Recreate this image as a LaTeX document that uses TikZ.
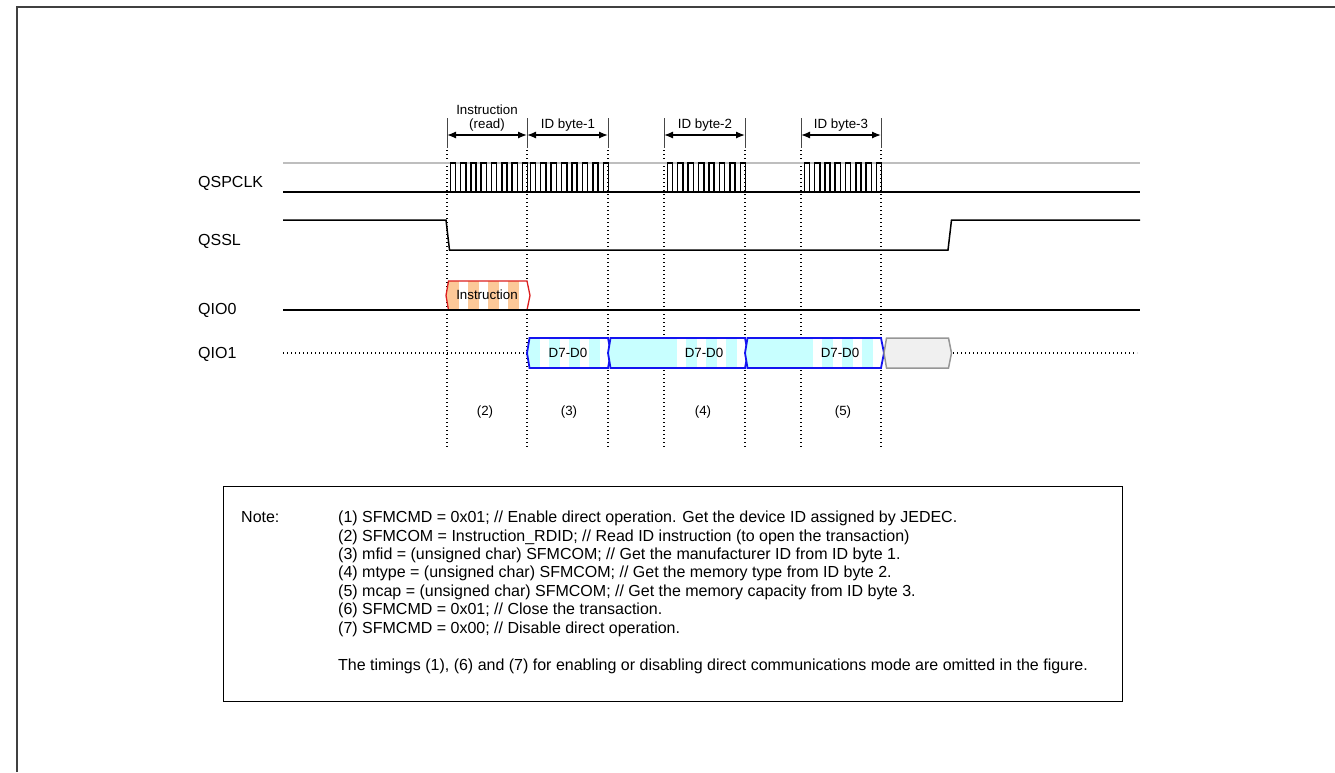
\documentclass[tikz,border=0pt]{standalone}
\usepackage{fontspec}
\setmainfont{Liberation Sans}
\usetikzlibrary{arrows.meta}
\definecolor{orangefill}{RGB}{252,200,152}
\definecolor{redline}{RGB}{220,30,30}
\definecolor{bluline}{RGB}{20,20,240}
\definecolor{cyanfill}{RGB}{200,255,255}
\definecolor{grayfill}{RGB}{240,240,240}
\definecolor{grayline}{RGB}{150,150,150}
\definecolor{clkgray}{RGB}{190,190,190}
\definecolor{borderc}{RGB}{64,64,64}
\definecolor{tickc}{RGB}{70,70,70}
\newcommand{\busbox}[6]{%
  \begin{scope}
    \clip (#1+2.5,#3) -- (#2,#3) -- (#2+3,{(#3+#4)/2}) -- (#2,#4) -- (#1+2.5,#4) -- (#1,{(#3+#4)/2}) -- cycle;
    \fill[#5] (#1-1,#3-1) rectangle (#2+5,#4+1);
    \foreach \k in {0,1,2,3} {\fill[white] ({#2-8-20*\k},#3-1) rectangle ({#2+1-20*\k+5*(\k==0)},#4+1);}
  \end{scope}
  \draw[#6] (#1+2.5,#3) -- (#2,#3) -- (#2+3,{(#3+#4)/2}) -- (#2,#4) -- (#1+2.5,#4) -- (#1,{(#3+#4)/2}) -- cycle;
}
\begin{document}
\begin{tikzpicture}[x=1pt,y=-1pt,
  font=\fontsize{16}{18.4}\selectfont,
  sig/.style={line width=1.5pt},
  dotline/.style={line width=1.3pt, dash pattern=on 1.3pt off 2.7pt},
  tickline/.style={tickc, line width=1pt},
  dimarrow/.style={line width=1.3pt, {Latex[length=9pt,width=7pt]}-{Latex[length=9pt,width=7pt]}},
  small/.style={font=\fontsize{13.33}{15}\selectfont, inner sep=0},
  lbl/.style={inner sep=0, anchor=base west},
  notel/.style={inner sep=0, anchor=base west}]
\useasboundingbox (0,0) rectangle (1335,772);
% outer border
\draw[borderc, line width=1.5pt] (17,772) -- (17,7) -- (1335,7);

% signal names
\node[lbl] (lclk) at (198,187.5) {QSPCLK};
\node[lbl] (lssl) at (198,245.5) {QSSL};
\node[lbl] (lio0) at (198,314.5) {QIO0};
\node[lbl] (lio1) at (198,358.5) {QIO1};

% vertical marker lines
\foreach \x in {447,527,608,664,745,801,881}{
  \draw[tickline] (\x,118) -- (\x,148);
  \draw[dotline] (\x,150) -- (\x,447);
}
% dimension arrows
\foreach \n/\x in {a/447,b/527,c/608,d/664,e/745,f/801,g/881}{
  \coordinate (t\n) at (\x,135);
}
\draw[dimarrow] (ta) -- (tb);
\draw[dimarrow] (tb) -- (tc);
\draw[dimarrow] (td) -- (te);
\draw[dimarrow] (tf) -- (tg);
\node[small, anchor=base] (hinst) at (487,114.5) {Instruction};
\node[small, anchor=base] (hread) at (487,128.5) {(read)};
\node[small, anchor=base] (hb1) at (568,128.5) {ID byte-1};
\node[small, anchor=base] (hb2) at (705,128.5) {ID byte-2};
\node[small, anchor=base] (hb3) at (841,128.5) {ID byte-3};

% QSPCLK
\draw[clkgray, line width=1.2pt] (283,163) -- (1140,163);
\draw[sig] (283,192) -- (1140,192);
\foreach \a/\b in {447/527,527/608,664/745,801/881}{
  \pgfmathsetmacro{\pp}{(\b-\a)*1.03/8}
  \foreach \i in {0,...,7}{
    \pgfmathsetmacro{\rx}{\a+3.3+\i*\pp}
    \pgfmathsetmacro{\fx}{\rx+0.5*\pp}
    \draw[sig] (\rx,192) -- (\rx,163) -- (\fx,163) -- (\fx,192);
  }
}

% QSSL
\draw[sig] (283,220) -- (446,220) -- (449.5,250) -- (948,250) -- (951.5,220) -- (1140,220);

% QIO0
\busbox{446}{527}{281}{310}{orangefill}{redline, line width=1.3pt}
\draw[sig] (283,310) -- (1140,310);
\node[small, anchor=base] (tinst) at (487,299.8) {Instruction};

% QIO1
\draw[dotline] (283,353) -- (527,353);
\busbox{527}{608}{338}{368}{cyanfill}{bluline, line width=1.8pt}
\busbox{608}{745}{338}{368}{cyanfill}{bluline, line width=1.8pt}
\busbox{745}{881}{338}{368}{cyanfill}{bluline, line width=1.8pt}
\filldraw[fill=grayfill, draw=grayline, line width=1.5pt] (886.5,338) -- (948.5,338) -- (951.5,353) -- (948.5,368) -- (886.5,368) -- (884,353) -- cycle;
\draw[dotline] (953,353) -- (1137,353);
\node[small, anchor=base] (d1) at (568,357.8) {D7-D0};
\node[small, anchor=base] (d2) at (704,357.8) {D7-D0};
\node[small, anchor=base] (d3) at (840,357.8) {D7-D0};

% step numbers
\node[small, anchor=base] (s2) at (485,415.8) {(2)};
\node[small, anchor=base] (s3) at (569,415.8) {(3)};
\node[small, anchor=base] (s4) at (703,415.8) {(4)};
\node[small, anchor=base] (s5) at (843,415.8) {(5)};

% note box
\node[draw, line width=1.4pt, minimum width=899pt, minimum height=215pt, inner sep=0, anchor=north west] (notebox) at (223,486) {};
\node[notel] (nlabel) at (241,522.7) {Note:};
\node[notel] (n1) at (338,522.7) {(1) SFMCMD = 0x01; // Enable direct operation. Get the device ID assigned by JEDEC.};
\node[notel] (n2) at (338,541.1) {(2) SFMCOM = Instruction\_RDID; // Read ID instruction (to open the transaction)};
\node[notel] (n3) at (338,559.5) {(3) mfid = (unsigned char) SFMCOM; // Get the manufacturer ID from ID byte 1.};
\node[notel] (n4) at (338,577.9) {(4) mtype = (unsigned char) SFMCOM; // Get the memory type from ID byte 2.};
\node[notel] (n5) at (338,596.3) {(5) mcap = (unsigned char) SFMCOM; // Get the memory capacity from ID byte 3.};
\node[notel] (n6) at (338,614.7) {(6) SFMCMD = 0x01; // Close the transaction.};
\node[notel] (n7) at (338,633.1) {(7) SFMCMD = 0x00; // Disable direct operation.};
\node[notel] (n8) at (338,670.5) {The timings (1), (6) and (7) for enabling or disabling direct communications mode are omitted in the figure.};
\end{tikzpicture}
\end{document}
